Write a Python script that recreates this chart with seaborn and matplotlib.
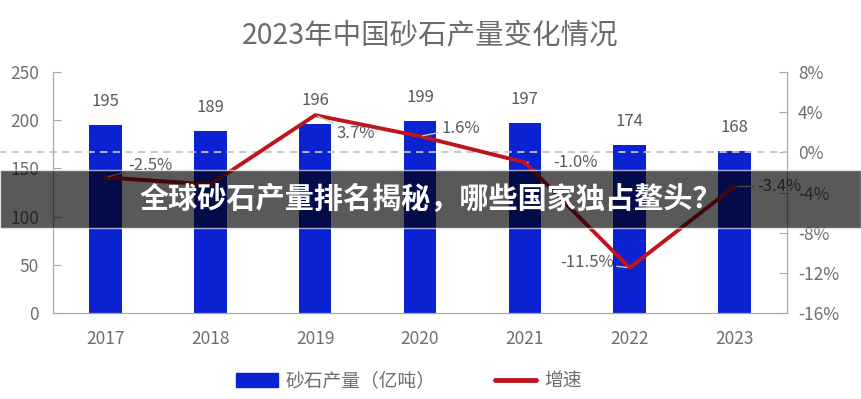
import numpy as np
import pandas as pd
import seaborn as sns
import matplotlib.pyplot as plt
from matplotlib.patches import Patch, Rectangle
from matplotlib.lines import Line2D

# chart data
years = ["2017", "2018", "2019", "2020", "2021", "2022", "2023"]
output = [195, 189, 196, 199, 197, 174, 168]          # 砂石产量（亿吨）
growth = [-2.5, -3.2, 3.7, 1.6, -1.0, -11.5, -3.4]    # 增速 %
# 2018 label is hidden under the banner in the original
growth_labels = ["-2.5%", "", "3.7%", "1.6%", "-1.0%", "-11.5%", "-3.4%"]

title = "2023年中国砂石产量变化情况"
banner = "全球砂石产量排名揭秘，哪些国家独占鳌头？"

sns.set_style("white")
plt.rcParams['font.family'] = ['Noto Sans CJK SC', 'DejaVu Sans']

txt = "#6e6e6e"
blue = "#0a22d2"
red = "#c0141c"

df = pd.DataFrame({"year": years, "output": output, "growth": growth})

fig = plt.figure(figsize=(8.61, 3.99), dpi=100)
ax = fig.add_axes([0.0616, 0.2155, 0.8524, 0.604])

sns.barplot(data=df, x="year", y="output", color=blue, width=0.31,
            saturation=1, ax=ax, linewidth=0)
ax.set_ylim(0, 250)
ax.set_xlim(-0.5, 6.5)
ax.set_yticks([0, 50, 100, 150, 200, 250])
ax.set_xlabel("")
ax.set_ylabel("")
ax.bar_label(ax.containers[0], padding=11, fontsize=12, color="#595959")

# secondary axis with growth rate
ax2 = ax.twinx()
ax2.axhline(0, xmin=-0.075, xmax=1, clip_on=False, color="#c4c4c4", lw=1.3,
            ls=(0, (4, 3)), zorder=1)
sns.lineplot(x=np.arange(len(years)), y=df["growth"], ax=ax2, color=red,
             lw=2.8, zorder=3)
ax2.set_ylim(-16, 8)
ax2.set_yticks(range(-16, 9, 4))
ax2.set_yticklabels([f"{t}%" for t in range(-16, 9, 4)])
ax2.set_ylabel("")

offsets = [(45, 12), (45, -14), (41, -18), (41, 8), (51, 0), (-43, 5), (45, 0)]
for i, (g, lab) in enumerate(zip(growth, growth_labels)):
    if not lab:
        continue
    dx, dy = offsets[i]
    ax2.annotate(lab, xy=(i, g), xytext=(dx * 0.72, dy * 0.72),
                 textcoords="offset points", ha="center", va="center",
                 fontsize=12, color="#595959", zorder=4,
                 arrowprops=dict(arrowstyle="-", color="#c8c8c8", lw=1,
                                 shrinkA=16, shrinkB=2))

for a in (ax, ax2):
    a.tick_params(colors=txt, labelsize=12.5, length=6, color="#a6a6a6",
                  direction="in")
    a.spines["top"].set_visible(False)
    for s in ("left", "right", "bottom"):
        a.spines[s].set_color("#a6a6a6")
ax.spines["bottom"].set_color("#d9d9d9")
ax.tick_params(axis="x", length=0, pad=12)
ax.tick_params(axis="y", pad=10)
ax2.tick_params(axis="y", pad=8)

fig.text(0.5, 1 - 35 / 399, title, ha="center", va="center", fontsize=20.5,
         color="#6b6b6b", fontweight="light")

handles = [Patch(facecolor=blue, edgecolor=blue),
           Line2D([0], [0], color=red, lw=3.5)]
fig.legend(handles, ["砂石产量（亿吨）", "增速"], loc="center",
           bbox_to_anchor=(0.475, 1 - 381 / 399), ncol=2, frameon=False,
           fontsize=13.5, labelcolor=txt, handlelength=2.2,
           handleheight=0.8, columnspacing=3.2, handletextpad=0.4)

# dark overlay banner
fig.patches.append(Rectangle((0, 1 - 228 / 399), 1, 58 / 399,
                             transform=fig.transFigure, facecolor="black",
                             alpha=0.65, zorder=10))
fig.text(0.5, 1 - 199 / 399, banner, ha="center", va="center",
         fontsize=21, color="white", fontweight="heavy", zorder=11)

fig.savefig("out.png", dpi=100)
